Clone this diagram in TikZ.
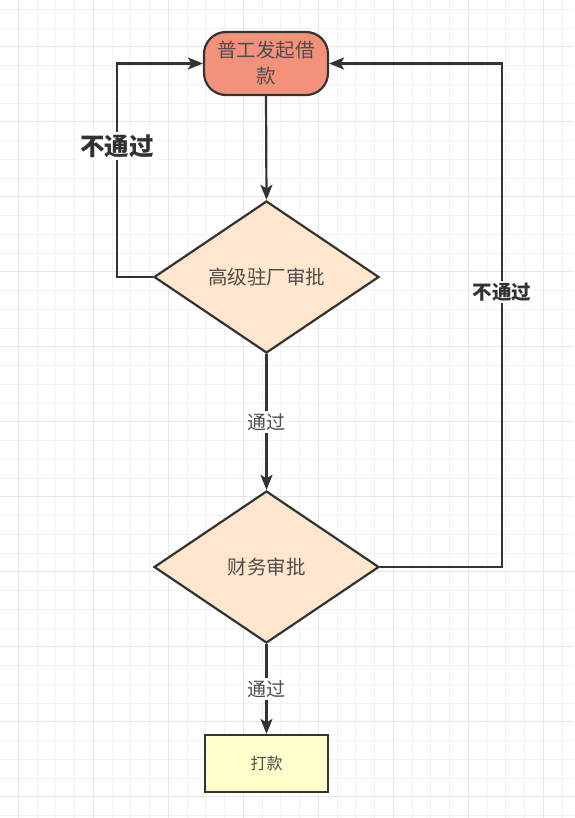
\documentclass[tikz,border=0pt]{standalone}
\usepackage{fontspec}
\newfontfamily\cjk{Noto Sans CJK SC}
\usetikzlibrary{shapes.geometric,arrows.meta}
\definecolor{linec}{HTML}{333333}
\definecolor{txtc}{HTML}{4D4D4D}
\definecolor{startfill}{HTML}{F4917B}
\definecolor{decfill}{HTML}{FFE6CC}
\definecolor{payfill}{HTML}{FFFFCC}
\definecolor{gridminor}{HTML}{F1F1F1}
\definecolor{gridmajor}{HTML}{E6E6E6}
\tikzset{
  startbox/.style={draw=linec, line width=2.2pt, fill=startfill, rounded corners=22pt,
    minimum width=124pt, minimum height=63pt, inner sep=0pt, align=center,
    font=\cjk\fontsize{19.5}{26}\selectfont, text=txtc},
  decbox/.style={draw=linec, line width=2.2pt, fill=decfill, diamond, aspect=1.48,
    minimum width=225pt, minimum height=152pt, inner sep=0pt,
    font=\cjk\fontsize{19.5}{24}\selectfont, text=txtc},
  paybox/.style={draw=linec, line width=2.2pt, fill=payfill,
    minimum width=123pt, minimum height=57pt, inner sep=0pt,
    font=\cjk\fontsize{16}{20}\selectfont, text=txtc},
  conn/.style={draw=linec, line width=2.2pt, -{Stealth[length=15pt,width=12pt,inset=3.5pt]}},
  passlbl/.style={fill=white, inner sep=2pt, text=txtc, font=\cjk\fontsize{19}{22}\selectfont},
  faillbl/.style={fill=white, inner sep=2pt, text=linec, font=\cjk\bfseries\fontsize{#1}{26}\selectfont},
}
\begin{document}
\begin{tikzpicture}[x=1pt,y=-1pt]
\useasboundingbox (0,0) rectangle (574,818);
\fill[white] (0,0) rectangle (574,818);
% grid
\foreach \k in {0,...,31} {
  \draw[gridminor, line width=1pt] ({-0.4+18.75*\k},0) -- ({-0.4+18.75*\k},818);
}
\foreach \k in {0,...,43} {
  \draw[gridminor, line width=1pt] (0,{9.3+18.75*\k}) -- (574,{9.3+18.75*\k});
}
\foreach \k in {0,...,7} {
  \draw[gridmajor, line width=1.2pt] ({18.3+75*\k},0) -- ({18.3+75*\k},818);
}
\foreach \k in {0,...,10} {
  \draw[gridmajor, line width=1.2pt] (0,{46.7+75*\k}) -- (574,{46.7+75*\k});
}
% nodes
\node[startbox] (start) at (266,63.5) {普工发起借\\款};
\node[decbox] (d1) at (266.5,277) {高级驻厂审批};
\node[decbox] (d2) at (266.5,567) {财务审批};
\node[paybox] (pay) at (266.5,763.5) {打款};
\coordinate (lc) at (117,277);
\coordinate (rc) at (502,567);
% connectors
\draw[conn] (start.south) -- (d1.north);
\draw[conn] (d1.west) -- (lc) |- (start.west);
\draw[conn] (d1.south) -- (d2.north);
\draw[conn] (d2.east) -- (rc) |- (start.east);
\draw[conn] (d2.south) -- (pay.north);
% labels
\node[faillbl=24.5] (fl1) at (117,146) {不通过};
\node[faillbl=19.5] (fl2) at (502,292) {不通过};
\node[passlbl] (pl1) at (266.5,422) {通过};
\node[passlbl] (pl2) at (266.5,689) {通过};
\end{tikzpicture}
\end{document}
